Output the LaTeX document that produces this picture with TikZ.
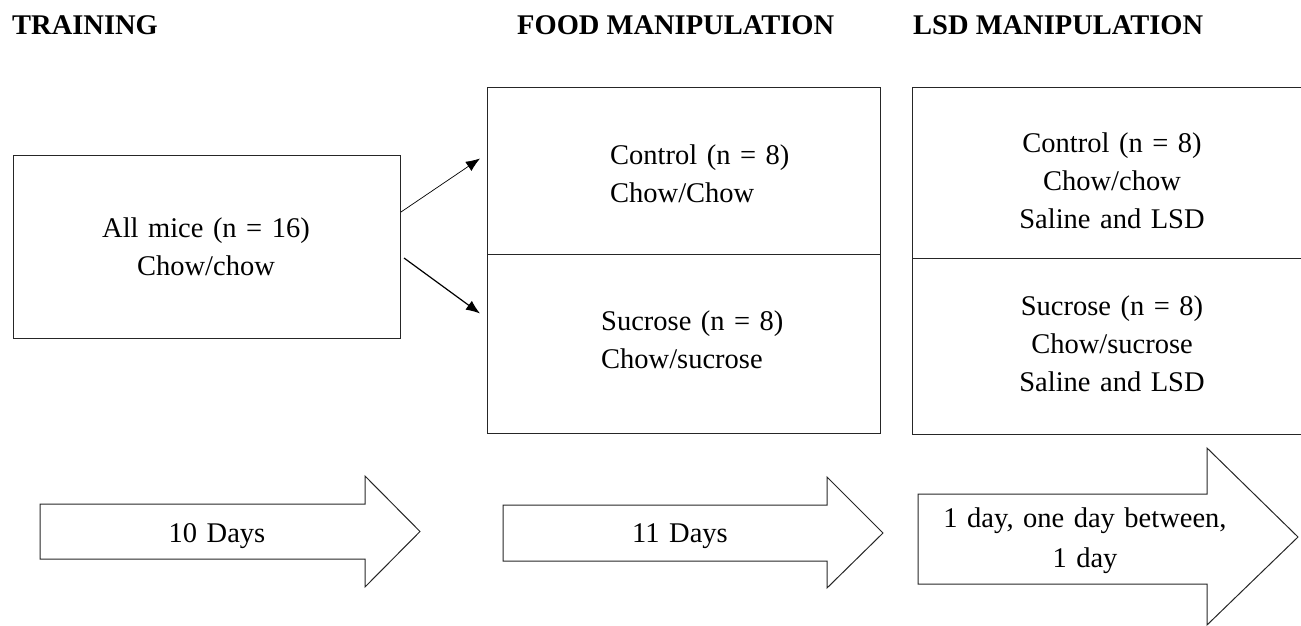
\documentclass[tikz,border=0pt]{standalone}
\usepackage{fontspec}
\setmainfont{Liberation Serif}
\usetikzlibrary{arrows.meta, calc}

\begin{document}
\begin{tikzpicture}[x = 1pt, y = -1pt, > = {Latex[length = 14pt, width = 11pt]},
	box/.style = {draw = black!85, line width = 1pt, anchor = north west, inner sep = 0pt},
	txt/.style = {font = \fontsize{28.5}{38}\selectfont, inner sep = 0pt, text width = 300pt},
	head/.style = {font = \fontsize{28.5}{34}\selectfont\bfseries, anchor = base west, inner sep = 0pt},
	blockarrow/.style = {draw = black!85, line width = 1pt, line join = miter}]

	% Page size

	\useasboundingbox (0, 0) rectangle (1301, 626);
	\clip (0, 0) rectangle (1301, 626);

	% Headings

	\node [head] (training) at (12, 35) {TRAINING};
	\node [head] (food) at (517, 35) {FOOD MANIPULATION};
	\node [head] (lsd) at (913, 35) {LSD MANIPULATION};

	% Training: all mice

	\node [box, minimum width = 387, minimum height = 183] (all) at (13, 155) {};
	\node [txt, align = center, anchor = base] (alltxt) at (206, 237) {All mice (n = 16)\\ Chow/chow};

	% Food manipulation: two groups

	\node [box, minimum width = 393, minimum height = 167] (foodctrl) at (487, 87) {};
	\node [box, minimum width = 393, minimum height = 179] (foodsuc) at (487, 254) {};
	\node [txt, align = left, anchor = base west] (foodctrltxt) at (610, 164) {Control (n = 8)\\ Chow/Chow};
	\node [txt, align = left, anchor = base west] (foodsuctxt) at (601, 330) {Sucrose (n = 8)\\ Chow/sucrose};

	% LSD manipulation: the box runs off the page

	\node [box, minimum width = 400, minimum height = 171] (lsdctrl) at (912, 87) {};
	\node [box, minimum width = 400, minimum height = 176] (lsdsuc) at (912, 258) {};
	\node [txt, align = center, anchor = base] (lsdctrltxt) at (1112, 152) {Control (n = 8)\\ Chow/chow\\ Saline and LSD};
	\node [txt, align = center, anchor = base] (lsdsuctxt) at (1112, 315) {Sucrose (n = 8)\\ Chow/sucrose\\ Saline and LSD};

	% Split into the two groups

	\draw [->, line width = 0.7pt] ($(all.north east) + (0, 57)$) -- ($(foodctrl.west) + (-7, -12.5)$);
	\draw [->, line width = 1.2pt] ($(all.north east) + (3, 103)$) -- ($(foodsuc.west) + (-7, -30.5)$);

	% Time line

	\draw [blockarrow] (40, 504) -- (365, 504) -- (365, 476) -- (420, 531.5) -- (365, 587) -- (365, 559) -- (40, 559) -- cycle;
	\node [txt, align = center, anchor = base] (days10) at (217, 542) {10 Days};

	\draw [blockarrow] (503, 505) -- (827, 505) -- (827, 477) -- (883, 533) -- (827, 588) -- (827, 561) -- (503, 561) -- cycle;
	\node [txt, align = center, anchor = base] (days11) at (680, 542) {11 Days};

	\draw [blockarrow] (918, 494) -- (1207, 494) -- (1207, 448) -- (1298, 537) -- (1207, 625) -- (1207, 584) -- (918, 584) -- cycle;
	\node [txt, align = center, anchor = base, font = \fontsize{28.5}{40}\selectfont] (lsddays) at (1085, 527) {1 day, one day between,\\ 1 day};

\end{tikzpicture}
\end{document}
